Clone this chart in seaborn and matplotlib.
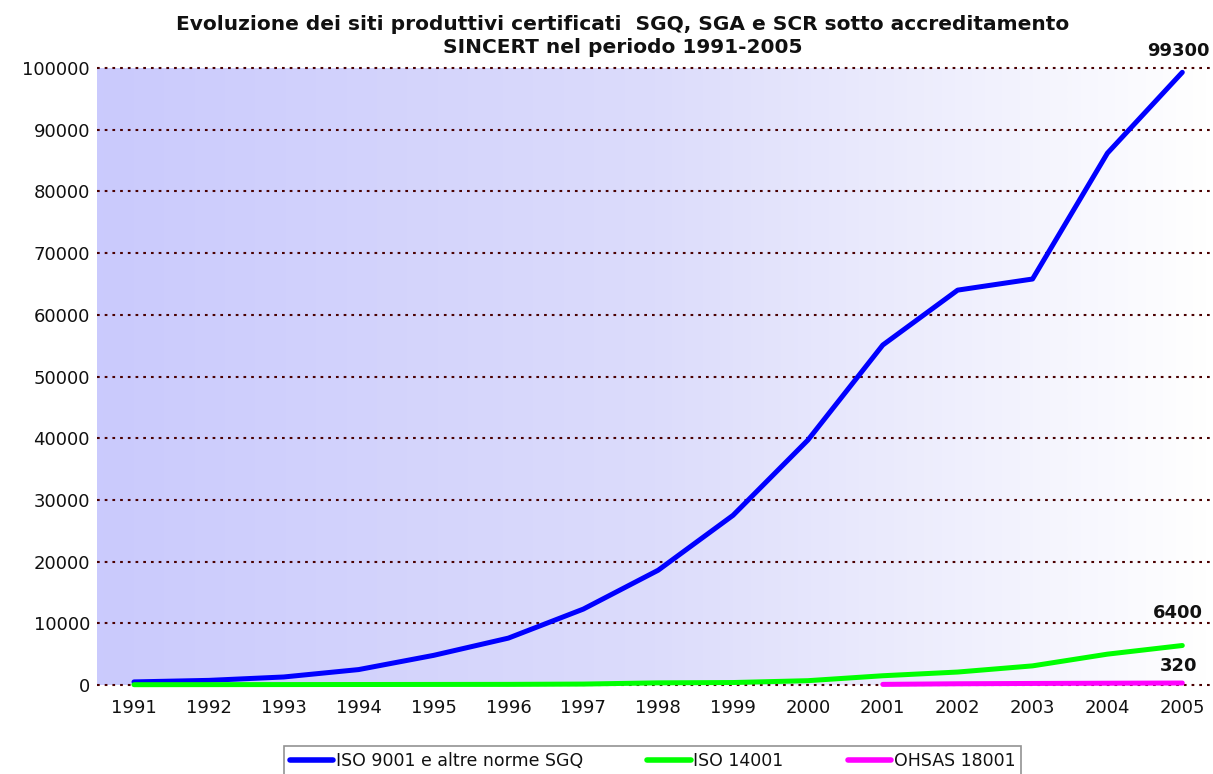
import numpy as np
import pandas as pd
import seaborn as sns
import matplotlib.pyplot as plt
from matplotlib.colors import LinearSegmentedColormap

# values
years = list(range(1991, 2006))
iso9001 = [500, 750, 1300, 2500, 4800, 7600, 12300, 18600, 27500, 39700,
           55100, 64000, 65800, 86200, 99300]
iso14001 = [50, 60, 70, 80, 90, 100, 150, 350, 400, 700,
            1500, 2100, 3100, 5000, 6400]
ohsas18001 = [np.nan] * 10 + [100, 200, 250, 290, 320]

series_names = ["ISO 9001 e altre norme SGQ", "ISO 14001", "OHSAS 18001"]
series_colors = ["#0000FF", "#00FF00", "#FF00FF"]
end_labels = ["99300", "6400", "320"]

df = pd.DataFrame({
    "anno": years * 3,
    "siti": iso9001 + iso14001 + ohsas18001,
    "serie": [series_names[0]] * 15 + [series_names[1]] * 15 + [series_names[2]] * 15,
})

sns.set_style("white")
plt.rcParams["font.family"] = ["DejaVu Sans"]
plt.rcParams["text.color"] = "#111111"

fig = plt.figure(figsize=(12.13, 7.74), dpi=100)
ax = fig.add_axes([97 / 1213, 89 / 774, 1 - 97 / 1213, 617 / 774])

x0, x1 = 1990.506, 2005.41
ax.set_xlim(x0, x1)
ax.set_ylim(0, 100000)

# lavender -> white background gradient
cmap = LinearSegmentedColormap.from_list("bg", ["#CACAFD", "#DCDCFB", "#FFFFFF"])
grad = np.linspace(0, 1, 256).reshape(1, -1)
ax.imshow(grad, extent=[x0, x1, 0, 100000], aspect="auto", cmap=cmap,
          zorder=0, interpolation="bicubic")

for yv in range(0, 100001, 10000):
    ax.axhline(yv, color="#4a0000", lw=1.5, ls=(0, (1.3, 2.4)), zorder=1,
               clip_on=False)

sns.lineplot(data=df, x="anno", y="siti", hue="serie", palette=series_colors,
             hue_order=series_names, lw=3.6, ax=ax, legend=False, zorder=3,
             clip_on=False, solid_capstyle="round")

offsets = [9, 17, 6]
for val_list, lab, off in zip([iso9001, iso14001, ohsas18001], end_labels, offsets):
    ax.annotate(lab, (2005, val_list[-1]), xytext=(-3, off),
                textcoords="offset points", ha="center", va="bottom",
                fontsize=13, fontweight="bold", color="#111111",
                annotation_clip=False)

ax.set_xticks(years)
ax.set_xticklabels([str(y) for y in years])
ax.set_yticks(range(0, 100001, 10000))
ax.tick_params(axis="both", length=0, labelsize=13, colors="#111111")
ax.tick_params(axis="x", pad=10)
ax.tick_params(axis="y", pad=5)
ax.set_xlabel("")
ax.set_ylabel("")
for s in ax.spines.values():
    s.set_visible(False)

fig.text(0.513, 0.968, "Evoluzione dei siti produttivi certificati  SGQ, SGA e SCR sotto accreditamento",
         ha="center", va="center", fontsize=14.5, fontweight="bold")
fig.text(0.513, 0.938, "SINCERT nel periodo 1991-2005",
         ha="center", va="center", fontsize=14.5, fontweight="bold")

handles = [plt.Line2D([], [], color=c, lw=4, solid_capstyle="round") for c in series_colors]
leg = fig.legend(handles, series_names, loc="upper center",
                 bbox_to_anchor=(0.538, 0.036), ncol=3, frameon=True,
                 fancybox=False, fontsize=12.5, handlelength=2.5,
                 handletextpad=0.15, columnspacing=3.7, borderpad=0.35,
                 borderaxespad=0)
leg.get_frame().set_edgecolor("#777777")
leg.get_frame().set_linewidth(1.2)

fig.savefig("out.png", dpi=100)
